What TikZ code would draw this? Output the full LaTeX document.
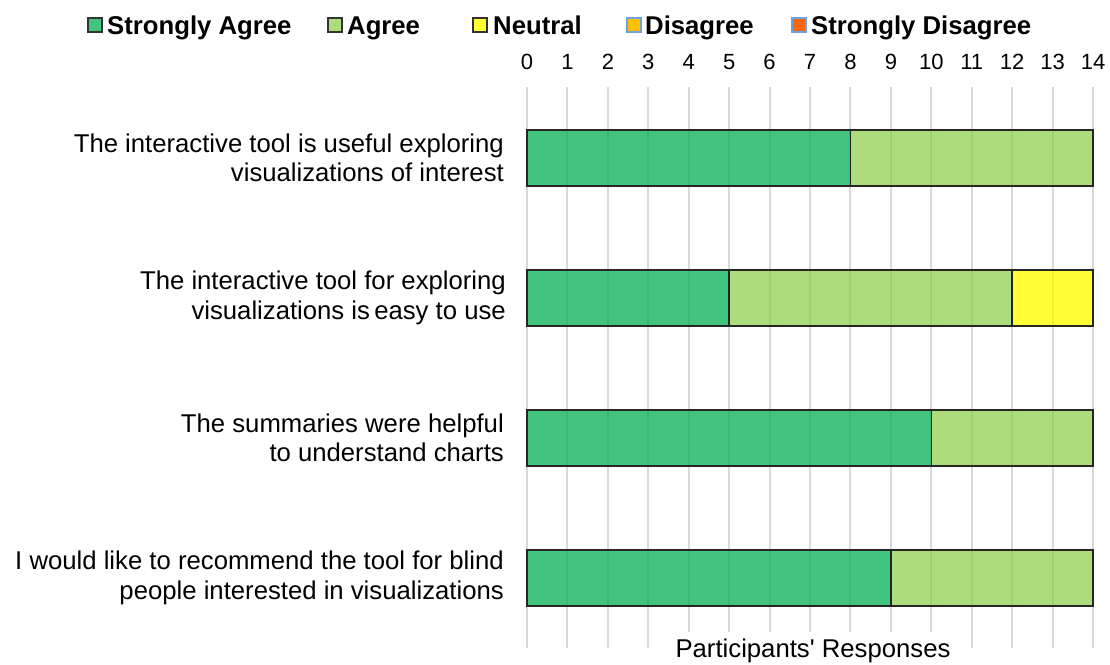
\documentclass[tikz,border=0pt]{standalone}
\usepackage{fontspec}
\setmainfont{Liberation Sans}[Ligatures=TeXOff]
\definecolor{sa}{RGB}{65,196,125}
\definecolor{ag}{RGB}{172,220,124}
\definecolor{ne}{RGB}{255,255,51}
\definecolor{di}{RGB}{255,192,0}
\definecolor{sd}{RGB}{255,106,0}
\definecolor{gridc}{RGB}{217,217,217}
\definecolor{lblue}{RGB}{110,160,230}
\tikzset{
  gridline/.style={draw=gridc, line width=2pt},
  gridover/.style={draw=black, opacity=0.06, line width=2pt},
  tick/.style={font=\fontsize{22}{26}\selectfont, inner sep=0pt, anchor=base},
  barbox/.style={draw=black!85, line width=1.6pt},
  lbl/.style={font=\fontsize{25.7}{29.5}\selectfont, align=right, anchor=east, inner sep=0pt},
  legsq/.style={minimum size=14pt, inner sep=0pt, line width=1.2pt},
  legtxt/.style={font=\fontsize{25.7}{30}\bfseries\selectfont, anchor=base west, inner sep=0pt},
  axtitle/.style={font=\fontsize{25.7}{30}\selectfont, fill=white, inner xsep=5pt, inner ysep=6pt, anchor=base}
}
\begin{document}
\begin{tikzpicture}[x=1pt,y=-1pt]
\useasboundingbox (0,0) rectangle (1110,664);
\fill[white] (0,0) rectangle (1110,664);
% grid
\foreach \i in {0,...,14} {
  \draw[gridline] ({527+40.43*\i},87) -- ({527+40.43*\i},648);
  \node[tick] (t\i) at ({527+40.43*\i},69) {\i};
}
% bars
\draw[barbox, fill=sa] (527,130) rectangle ({527+8*40.43},186);
\draw[barbox, fill=ag] ({527+8*40.43},130) rectangle ({527+14*40.43},186);
\draw[barbox, fill=sa] (527,270) rectangle ({527+5*40.43},326);
\draw[barbox, fill=ag] ({527+5*40.43},270) rectangle ({527+12*40.43},326);
\draw[barbox, fill=ne] ({527+12*40.43},270) rectangle ({527+14*40.43},326);
\draw[barbox, fill=sa] (527,410) rectangle ({527+10*40.43},466);
\draw[barbox, fill=ag] ({527+10*40.43},410) rectangle ({527+14*40.43},466);
\draw[barbox, fill=sa] (527,550) rectangle ({527+9*40.43},606);
\draw[barbox, fill=ag] ({527+9*40.43},550) rectangle ({527+14*40.43},606);
% faint grid showing through the bars
\foreach \i in {1,...,13} {
  \foreach \yt in {131,271,411,551} {
    \draw[gridover] ({527+40.43*\i},\yt) -- ({527+40.43*\i},\yt+54);
  }
}
% labels
\node[lbl] (q1) at (504,158) {The interactive tool is useful exploring\\visualizations of interest};
\node[lbl] (q2) at (506,298) {The interactive tool for exploring\\visualizations is\,easy to use\hspace{4pt}};
\node[lbl] (q3) at (504,438) {The summaries were helpful\\to understand charts\hspace{3pt}};
\node[lbl] (q4) at (504,578) {I would like to recommend the tool for blind\\people interested in visualizations};
% legend
\node[legsq, draw=black!80, fill=sa] (s1) at (95,25) {};
\node[legtxt] (l1) at (107,34) {Strongly Agree};
\node[legsq, draw=black!80, fill=ag] (s2) at (335,25) {};
\node[legtxt] (l2) at (347,34) {Agree};
\node[legsq, draw=black!80, fill=ne] (s3) at (480,25) {};
\node[legtxt] (l3) at (493,34) {Neutral};
\node[legsq, draw=lblue, fill=di] (s4) at (634,25) {};
\node[legtxt] (l4) at (645,34) {Disagree};
\node[legsq, draw=lblue, fill=sd] (s5) at (799,25) {};
\node[legtxt] (l5) at (811,34) {Strongly Disagree};
% axis title
\node[axtitle] (ax) at (813,657) {Participants' Responses};
\end{tikzpicture}
\end{document}
